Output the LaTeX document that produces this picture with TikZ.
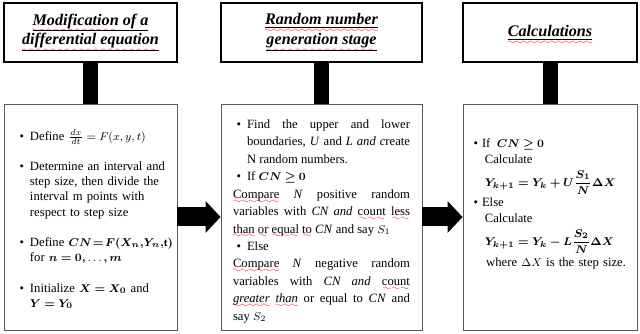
\documentclass[tikz,border=0pt]{standalone}
\usepackage{amsmath,amssymb}
\usepackage{fontspec}
\setmainfont{Liberation Serif}
\usepackage{bm}
\usepackage{xcolor}
\usetikzlibrary{arrows.meta}
\DeclareMathSizes{9}{8.2}{6}{5}

% red spell-check waves
\font\wavefont=lasy6
\newcommand\spellwave[2][3.5pt]{\leavevmode\setbox0\hbox{#2}%
  \rlap{\smash{\textcolor{red}{\lower#1\hbox to\wd0{\xleaders\hbox{\wavefont\char58}\hfil}}}}#2}
\newenvironment{dotlist}[3]{\begin{list}{\textbullet}{\setlength{\leftmargin}{#1}%
  \setlength{\labelsep}{#2}\setlength{\itemsep}{#3}\setlength{\topsep}{0pt}%
  \setlength{\parsep}{0pt}\setlength{\partopsep}{0pt}\setlength{\labelwidth}{\dimexpr#1-#2\relax}}}%
  {\end{list}}

\begin{document}
\begin{tikzpicture}[x=1cm,y=1cm,
  headbox/.style={draw=black,line width=0.9pt,minimum width=#1,minimum height=1.475cm,
    inner sep=0pt,align=center,font=\fontsize{11.5}{14}\selectfont\bfseries\itshape},
  stagebox/.style={draw=black!65,line width=0.6pt,minimum height=5.65cm,inner ysep=0pt},
  stem/.style={line width=0.375cm},
  bigarrow/.style={line width=0.475cm,-{Triangle[length=0.375cm,width=0.775cm]}}]
\useasboundingbox (0,0) rectangle (16,8.35);

\node[headbox=4.325cm] (title1) at (2.2625,7.5375)
  {\underline{\spellwave[5.5pt]{Modification} of a}\\ \underline{\spellwave[5.5pt]{differential equation}}};
\node[headbox=5.025cm] (title2) at (8.0375,7.5375)
  {\underline{\spellwave[5.5pt]{Random number}}\\ \underline{\spellwave[5.5pt]{generation stage}}};
\node[headbox=4.35cm] (title3) at (13.75,7.5375)
  {\underline{\spellwave[5.5pt]{Calculations}}};

\node[stagebox,inner xsep=0.25cm,text width=3.825cm,align=left,
  font=\fontsize{9}{10.7}\selectfont] (body1) at (2.2625,2.925) {%
\begin{dotlist}{0.4cm}{0.15cm}{11pt}
\item Define $\frac{dx}{dt}=F(x,y,t)$
\item Determine an interval and\newline step size, then divide the\newline interval m points with\newline respect to step size
\item \makebox[0pt][l]{Define \fontsize{8}{10.7}\selectfont$\bm{CN\!=\!F(X_n,\!Y_n,\!}\mathbf{t}\bm{)}$}\newline for $\bm{n=0,}\ldots\bm{,m}$
\item Initialize $\bm{X=X_0}$ and\newline $\bm{Y=Y_0}$
\end{dotlist}};

\node[stagebox,inner xsep=0.3cm,text width=4.425cm,align=justify,
  font=\fontsize{9}{12.4}\selectfont] (body2) at (8.0375,2.925) {%
\begin{dotlist}{0.35cm}{0.15cm}{0pt}
\item Find the upper and lower\linebreak boundaries, \textit{U} and \textit{L and c}reate\linebreak N random numbers.
\item If $\bm{CN\ge 0}$
\end{dotlist}
\spellwave{Compare} \textit{N} positive random\linebreak variables with \textit{CN and} \spellwave{count} \spellwave{less}\linebreak \spellwave{than} \spellwave{or} \spellwave{equal} \spellwave{to} \textit{CN} and say $S_1$
\begin{dotlist}{0.35cm}{0.15cm}{0pt}
\item Else
\end{dotlist}
\spellwave{Compare} \textit{N} negative random\linebreak variables with \textit{CN and} \spellwave{count}\linebreak \spellwave{\textit{greater}} \spellwave{\textit{than}} or equal to \textit{CN} and\linebreak say $S_2$};

\node[stagebox,inner xsep=0.2cm,text width=3.95cm,align=left,
  font=\fontsize{9}{11.4}\selectfont] (body3) at (13.75,2.925) {%
\begin{dotlist}{0.275cm}{0.1cm}{0pt}
\item If\, $\bm{CN\ge 0}$\\
\hspace*{2pt}Calculate\\[5pt]
\hspace*{2pt}$\displaystyle\bm{Y_{k+1}=Y_k+U\frac{S_1}{N}\Delta X}$\\[1pt]
\item Else\\
\hspace*{2pt}Calculate\\[5pt]
\hspace*{2pt}$\displaystyle\bm{Y_{k+1}=Y_k-L\frac{S_2}{N}\Delta X}$\\[2pt]
\hspace*{3pt}where $\Delta X$ is the step size.
\end{dotlist}
\par\vspace{0.5cm}\null};

\draw[stem] (title1) -- (body1);
\draw[stem] (title2) -- (body2);
\draw[stem] (title3) -- (body3);

\draw[bigarrow] (body1) -- (body2);
\draw[bigarrow] (body2) -- (body3);
\end{tikzpicture}
\end{document}
